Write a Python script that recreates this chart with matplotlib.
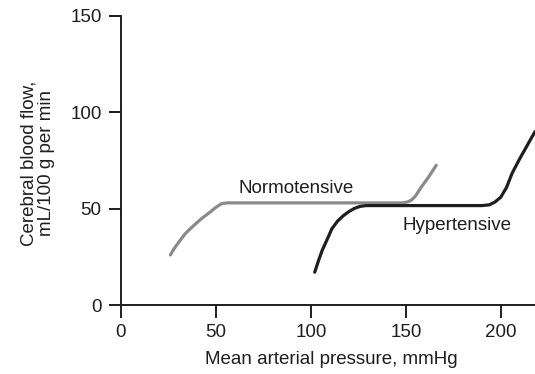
import matplotlib
matplotlib.use("Agg")
import matplotlib.pyplot as plt

# Data
norm_x = [26, 28, 31, 34, 38, 42, 47, 50, 53, 56, 100, 148, 151, 153, 155, 158, 162, 166]
norm_y = [26, 29.3, 33.4, 37.2, 41, 44.5, 48.3, 50.7, 52.6, 53, 53, 53, 53.5, 54.5, 56.5, 61, 66.5, 72.5]
hyp_x = [102, 104, 106, 109, 111, 114, 117, 120, 123, 126, 129, 190, 194, 197, 200, 203, 206, 210, 214, 218]
hyp_y = [17, 23, 28.5, 35, 39.5, 43.5, 46.3, 48.5, 50.2, 51.2, 51.6, 51.6, 52, 53.5, 56, 61, 68.5, 76, 83, 90]
xticks = [0, 50, 100, 150, 200]
yticks = [0, 50, 100, 150]

plt.rcParams['font.family'] = ['Liberation Sans', 'DejaVu Sans']
FS = 13.5
TXT = '#1e1e1e'

fig = plt.figure(figsize=(5.35, 3.74), dpi=100)
ax = fig.add_axes([121/535, 1-305/374, 1-121/535, (305-16)/374])

ax.plot(norm_x, norm_y, color='#8a8a8a', lw=2.3, solid_capstyle='round', solid_joinstyle='round')
ax.plot(hyp_x, hyp_y, color='#1e1e1e', lw=2.3, solid_capstyle='round', solid_joinstyle='round')

ax.set_xlim(0, 218)
ax.set_ylim(0, 150)
ax.set_xticks(xticks)
ax.set_yticks(yticks)
for s in ['top', 'right']:
    ax.spines[s].set_visible(False)
for s in ['left', 'bottom']:
    ax.spines[s].set_linewidth(1.4)
    ax.spines[s].set_color(TXT)
ax.tick_params(direction='out', length=9, width=1.4, color=TXT,
               labelsize=FS, labelcolor=TXT, pad=5)

ax.set_xlabel('Mean arterial pressure, mmHg', fontsize=FS, color=TXT)
ax.xaxis.set_label_coords(0.507, -0.16)
ax.set_ylabel('Cerebral blood flow,\nmL/100 g per min', fontsize=FS, color=TXT, linespacing=1.0)
ax.yaxis.set_label_coords(-0.16, 0.49)

ax.text(62, 60.5, 'Normotensive', fontsize=FS, color=TXT, va='center', ha='left')
ax.text(148, 41.5, 'Hypertensive', fontsize=FS, color=TXT, va='center', ha='left')

fig.savefig('out.png', dpi=100)
